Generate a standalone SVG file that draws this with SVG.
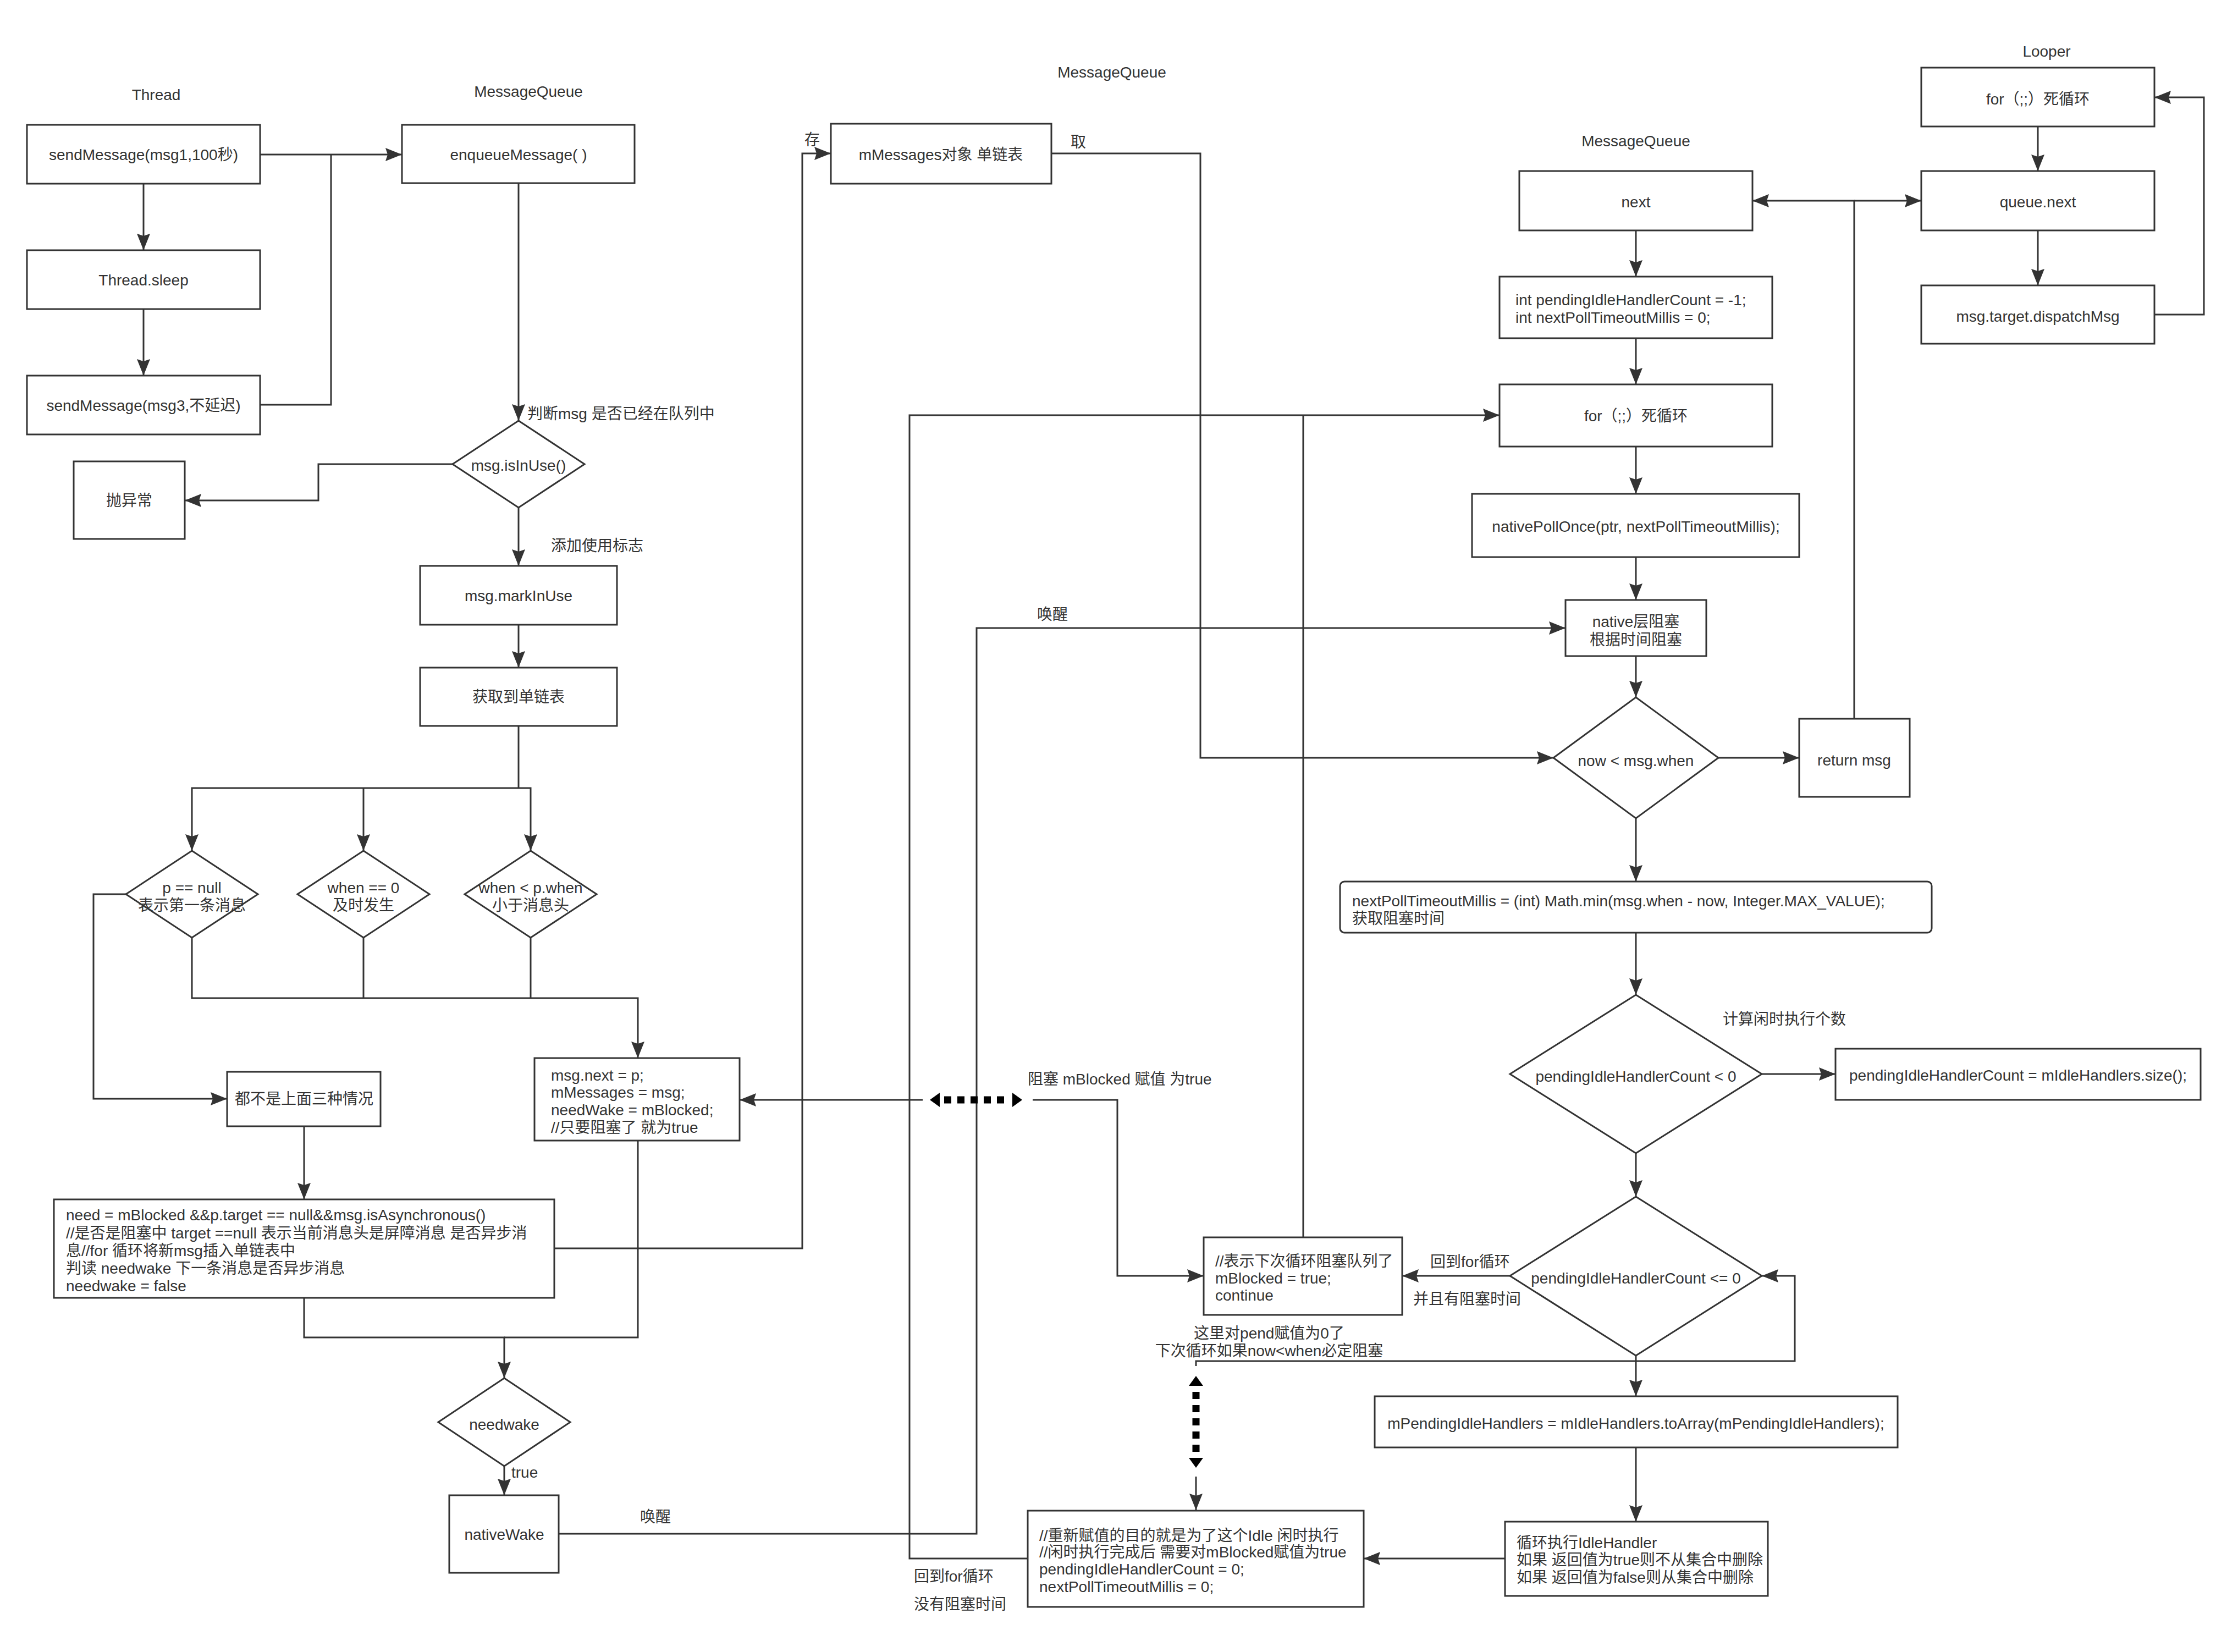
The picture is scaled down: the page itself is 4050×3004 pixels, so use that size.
<svg xmlns="http://www.w3.org/2000/svg" width="4050" height="3004" viewBox="0 0 4050 3004">
<style>
text{font-family:"Liberation Sans","Noto Sans CJK SC",sans-serif;font-size:28px;fill:#333;dominant-baseline:central}
.c{text-anchor:middle}
.n rect,.n polygon{fill:#fff;stroke:#333;stroke-width:3}
.e path{fill:none;stroke:#333;stroke-width:3}
.m{marker-end:url(#a)}
.dot{stroke:#000;stroke-width:13;stroke-dasharray:13 11;fill:none}
.tri{fill:#000}
</style>
<defs>
<marker id="a" viewBox="0 0 30 24" refX="30" refY="12" markerWidth="30" markerHeight="24" markerUnits="userSpaceOnUse" orient="auto"><path d="M0,0 L30,12 L0,24 L4,12 z" fill="#333"/></marker>
</defs>
<rect width="4050" height="3004" fill="#fff"/>

<g id="labels">
<text class="c" x="284" y="172">Thread</text>
<text class="c" x="961" y="166">MessageQueue</text>
<text class="c" x="2022" y="131">MessageQueue</text>
<text class="c" x="2975" y="256">MessageQueue</text>
<text class="c" x="3722" y="93">Looper</text>
</g>

<g id="connectors" class="e">
<path class="m" d="M261,334 V455"/>
<path class="m" d="M261,562 V683"/>
<path class="m" d="M473,281 H731"/>
<path d="M473,736 H602 V281"/>
<path class="m" d="M943,333 V765"/>
<path class="m" d="M823,844 H579 V910 H336"/>
<path class="m" d="M943,923 V1029"/>
<path class="m" d="M943,1136 V1214"/>
<path d="M943,1320 V1433"/>
<path class="m" d="M943,1433 H349 V1547"/>
<path class="m" d="M661,1433 V1547"/>
<path class="m" d="M943,1433 H965 V1547"/>
<path class="m" d="M349,1705 V1815 H1160 V1924"/>
<path d="M661,1705 V1815"/>
<path d="M965,1705 V1815"/>
<path class="m" d="M229,1626 H170 V1998 H413"/>
<path class="m" d="M553,2048 V2181"/>
<path class="m" d="M553,2360 V2432 H917 V2506"/>
<path d="M1160,2074 V2432 H917"/>
<path class="m" d="M917,2666 V2719"/>
<path class="m" d="M1008,2270 H1459 V279 H1511"/>
<path class="m" d="M1912,279 H2183 V1378 H2825"/>
<path class="m" d="M1016,2789 H1776 V1142 H2847"/>
<path class="m" d="M1869,2834 H1654 V755 H2727"/>
<path d="M2370,2250 V755"/>
<path class="m" d="M2975,419 V503"/>
<path class="m" d="M2975,615 V699"/>
<path class="m" d="M2975,812 V898"/>
<path class="m" d="M2975,1013 V1091"/>
<path class="m" d="M2975,1193 V1268"/>
<path class="m" d="M2975,1488 V1603"/>
<path class="m" d="M2975,1696 V1809"/>
<path class="m" d="M2975,2097 V2176"/>
<path class="m" d="M2975,2465 V2539"/>
<path class="m" d="M2975,2632 V2767"/>
<path class="m" d="M3125,1378 H3272"/>
<path class="m" d="M3372,1307 V365 H3187"/>
<path class="m" d="M3372,365 H3494"/>
<path class="m" d="M3204,1953 H3338"/>
<path class="m" d="M2746,2320 H2550"/>
<path class="m" d="M2737,2834 H2480"/>
<path class="m" d="M2175,2685 V2746"/>
<path class="m" d="M2175,2484 V2475 H3264 V2320 H3204"/>
<path class="m" d="M1678,2000 H1345"/>
<path class="m" d="M1878,2000 H2032 V2320 H2189"/>
<path class="m" d="M3706,230 V311"/>
<path class="m" d="M3706,419 V519"/>
<path class="m" d="M3918,572 H4008 V177 H3918"/>
<line class="dot" x1="1717" y1="2000" x2="1832" y2="2000"/>
<polygon class="tri" points="1691,2000 1709,1987 1709,2013"/>
<polygon class="tri" points="1859,2000 1841,1987 1841,2013"/>
<line class="dot" x1="2175" y1="2531" x2="2175" y2="2642"/>
<polygon class="tri" points="2175,2502 2162,2520 2188,2520"/>
<polygon class="tri" points="2175,2669 2162,2651 2188,2651"/>
<text x="959" y="752">判断msg 是否已经在队列中</text>
<text x="1002" y="992">添加使用标志</text>
<text class="c" x="1477" y="254">存</text>
<text class="c" x="1961" y="258">取</text>
<text class="c" x="1914" y="1117">唤醒</text>
<text class="c" x="1192" y="2758">唤醒</text>
<text x="930" y="2677">true</text>
<text x="1869" y="1962">阻塞 mBlocked 赋值 为true</text>
<text x="3133" y="1853">计算闲时执行个数</text>
<text x="2601" y="2294">回到for循环</text>
<text x="2570" y="2362">并且有阻塞时间</text>
<text class="c" x="2308" y="2424">这里对pend赋值为0了</text>
<text class="c" x="2308" y="2456">下次循环如果now&lt;when必定阻塞</text>
<text x="1662" y="2866">回到for循环</text>
<text x="1662" y="2917">没有阻塞时间</text>
</g>

<g id="send1" class="n"><rect x="49" y="227" width="424" height="107"/><text class="c" x="261" y="281">sendMessage(msg1,100秒)</text></g>
<g id="sleep" class="n"><rect x="49" y="455" width="424" height="107"/><text class="c" x="261" y="509">Thread.sleep</text></g>
<g id="send3" class="n"><rect x="49" y="683" width="424" height="107"/><text class="c" x="261" y="737">sendMessage(msg3,不延迟)</text></g>
<g id="enqueue" class="n"><rect x="731" y="227" width="423" height="106"/><text class="c" x="943" y="281">enqueueMessage( )</text></g>
<g id="isInUse" class="n"><polygon points="943,765 1063,844 943,923 823,844"/><text class="c" x="943" y="846">msg.isInUse()</text></g>
<g id="throw" class="n"><rect x="134" y="839" width="202" height="141"/><text class="c" x="235" y="910">抛异常</text></g>
<g id="markInUse" class="n"><rect x="764" y="1029" width="358" height="107"/><text class="c" x="943" y="1083">msg.markInUse</text></g>
<g id="getList" class="n"><rect x="764" y="1214" width="358" height="106"/><text class="c" x="943" y="1267">获取到单链表</text></g>
<g id="d1" class="n"><polygon points="349,1547 469,1626 349,1705 229,1626"/><text class="c" x="349" y="1614">p == null</text><text class="c" x="349" y="1646">表示第一条消息</text></g>
<g id="d2" class="n"><polygon points="661,1547 781,1626 661,1705 541,1626"/><text class="c" x="661" y="1614">when == 0</text><text class="c" x="661" y="1646">及时发生</text></g>
<g id="d3" class="n"><polygon points="965,1547 1085,1626 965,1705 845,1626"/><text class="c" x="965" y="1614">when &lt; p.when</text><text class="c" x="965" y="1646">小于消息头</text></g>
<g id="none" class="n"><rect x="413" y="1949" width="279" height="99"/><text class="c" x="553" y="1998">都不是上面三种情况</text></g>
<g id="need" class="n"><rect x="98" y="2181" width="910" height="179"/>
<text x="120" y="2209">need = mBlocked &amp;&amp;p.target == null&amp;&amp;msg.isAsynchronous()</text>
<text x="120" y="2242">//是否是阻塞中  target ==null 表示当前消息头是屏障消息  是否异步消</text>
<text x="120" y="2274">息//for 循环将新msg插入单链表中</text>
<text x="120" y="2306">判读 needwake 下一条消息是否异步消息</text>
<text x="120" y="2338">needwake = false</text></g>
<g id="msgnext" class="n"><rect x="972" y="1924" width="373" height="150"/>
<text x="1002" y="1955">msg.next = p;</text>
<text x="1002" y="1986">mMessages = msg;</text>
<text x="1002" y="2018">needWake = mBlocked;</text>
<text x="1002" y="2050">//只要阻塞了 就为true</text></g>
<g id="needwake" class="n"><polygon points="917,2506 1037,2586 917,2666 797,2586"/><text class="c" x="917" y="2590">needwake</text></g>
<g id="nativeWake" class="n"><rect x="817" y="2719" width="199" height="141"/><text class="c" x="917" y="2790">nativeWake</text></g>
<g id="mMessages" class="n"><rect x="1511" y="225" width="401" height="109"/><text class="c" x="1711" y="281">mMessages对象 单链表</text></g>
<g id="next" class="n"><rect x="2763" y="311" width="424" height="108"/><text class="c" x="2975" y="367">next</text></g>
<g id="init" class="n"><rect x="2727" y="503" width="496" height="112"/><text x="2756" y="545">int pendingIdleHandlerCount = -1;</text><text x="2756" y="577">int nextPollTimeoutMillis = 0;</text></g>
<g id="forLoop" class="n"><rect x="2727" y="699" width="496" height="113"/><text class="c" x="2975" y="756">for（;;）死循环</text></g>
<g id="pollOnce" class="n"><rect x="2677" y="898" width="595" height="115"/><text class="c" x="2975" y="957">nativePollOnce(ptr, nextPollTimeoutMillis);</text></g>
<g id="nativeBlock" class="n"><rect x="2847" y="1091" width="256" height="102"/><text class="c" x="2975" y="1130">native层阻塞</text><text class="c" x="2975" y="1163">根据时间阻塞</text></g>
<g id="nowWhen" class="n"><polygon points="2975,1268 3125,1378 2975,1488 2825,1378"/><text class="c" x="2975" y="1383">now &lt; msg.when</text></g>
<g id="returnMsg" class="n"><rect x="3272" y="1307" width="201" height="142"/><text class="c" x="3372" y="1382">return msg</text></g>
<g id="timeout" class="n"><rect x="2437" y="1603" width="1076" height="93" rx="8"/><text x="2459" y="1638">nextPollTimeoutMillis = (int) Math.min(msg.when - now, Integer.MAX_VALUE);</text><text x="2459" y="1670">获取阻塞时间</text></g>
<g id="lt0" class="n"><polygon points="2975,1809 3204,1953 2975,2097 2746,1953"/><text class="c" x="2975" y="1957">pendingIdleHandlerCount &lt; 0</text></g>
<g id="sizeBox" class="n"><rect x="3338" y="1907" width="664" height="93"/><text class="c" x="3670" y="1955">pendingIdleHandlerCount = mIdleHandlers.size();</text></g>
<g id="le0" class="n"><polygon points="2975,2176 3204,2320 2975,2465 2746,2320"/><text class="c" x="2975" y="2324">pendingIdleHandlerCount &lt;= 0</text></g>
<g id="blocked" class="n"><rect x="2189" y="2250" width="361" height="141"/><text x="2210" y="2293">//表示下次循环阻塞队列了</text><text x="2210" y="2324">mBlocked = true;</text><text x="2210" y="2355">continue</text></g>
<g id="pendingArr" class="n"><rect x="2500" y="2539" width="951" height="93"/><text class="c" x="2975" y="2588">mPendingIdleHandlers = mIdleHandlers.toArray(mPendingIdleHandlers);</text></g>
<g id="loopIdle" class="n"><rect x="2737" y="2767" width="478" height="135"/><text x="2758" y="2805">循环执行IdleHandler</text><text x="2758" y="2836">如果 返回值为true则不从集合中删除</text><text x="2758" y="2868">如果 返回值为false则从集合中删除</text></g>
<g id="reset" class="n"><rect x="1869" y="2747" width="611" height="175"/><text x="1890" y="2792">//重新赋值的目的就是为了这个Idle 闲时执行</text><text x="1890" y="2822">//闲时执行完成后 需要对mBlocked赋值为true</text><text x="1890" y="2853">pendingIdleHandlerCount = 0;</text><text x="1890" y="2885">nextPollTimeoutMillis = 0;</text></g>
<g id="looperFor" class="n"><rect x="3494" y="123" width="424" height="107"/><text class="c" x="3706" y="180">for（;;）死循环</text></g>
<g id="queueNext" class="n"><rect x="3494" y="311" width="424" height="108"/><text class="c" x="3706" y="367">queue.next</text></g>
<g id="dispatch" class="n"><rect x="3494" y="519" width="424" height="106"/><text class="c" x="3706" y="575">msg.target.dispatchMsg</text></g>
</svg>
